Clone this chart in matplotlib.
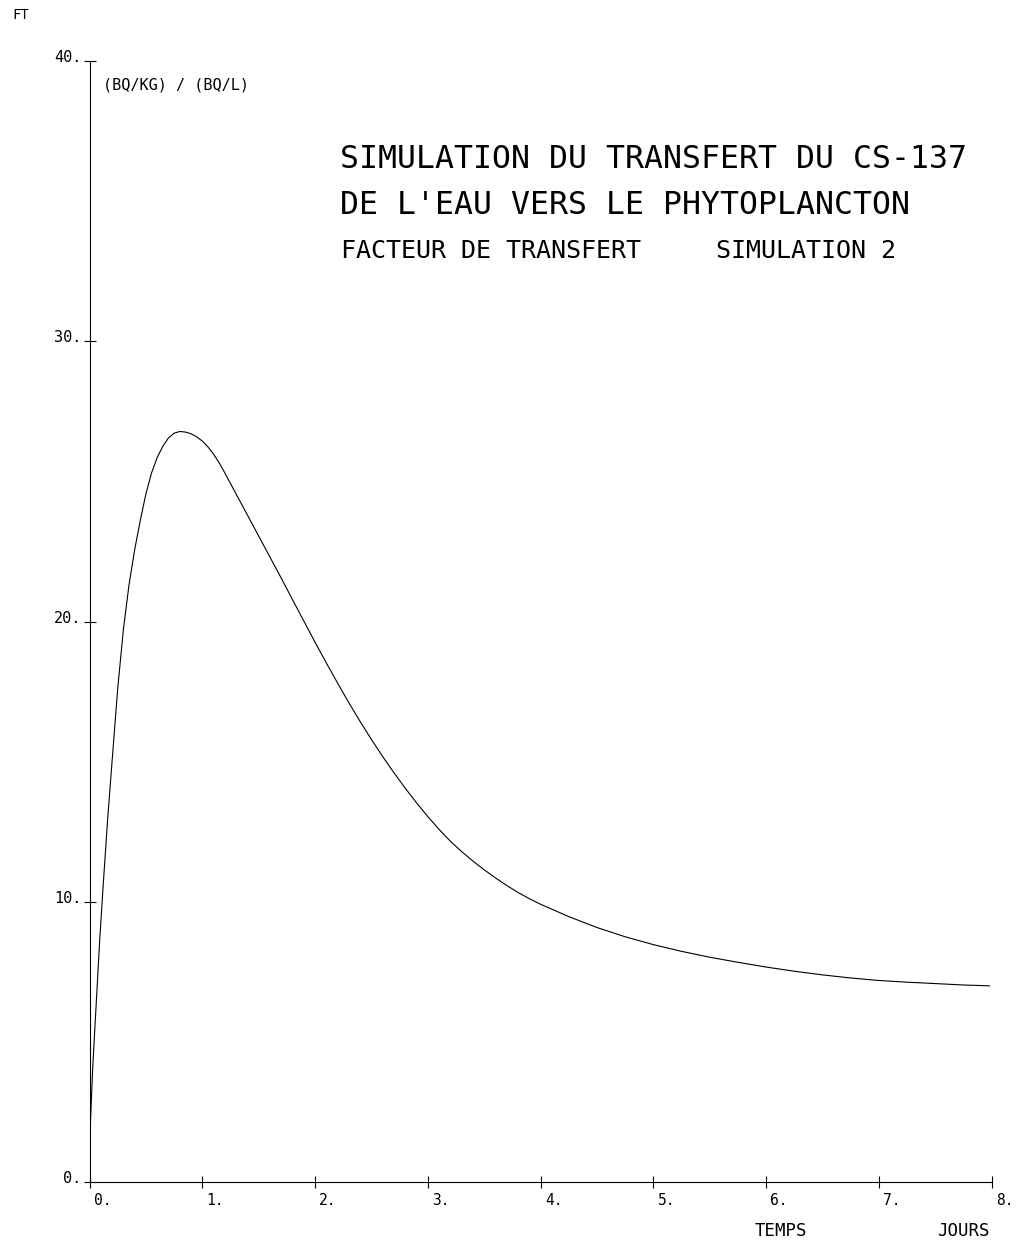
import matplotlib
matplotlib.use("Agg")
import matplotlib.pyplot as plt

# Transfer factor of Cs-137 from water to phytoplankton (simulation 2)
temps_jours = [0.0, 0.004, 0.01, 0.03, 0.06, 0.09, 0.12, 0.16, 0.20, 0.25,
               0.30, 0.35, 0.40, 0.45, 0.50, 0.55, 0.60, 0.65, 0.70, 0.75,
               0.80, 0.85, 0.90, 0.95, 1.00, 1.05, 1.10, 1.15, 1.20, 1.30,
               1.40, 1.50, 1.60, 1.70, 1.80, 1.90, 2.00, 2.10, 2.20, 2.30,
               2.40, 2.50, 2.60, 2.70, 2.80, 2.90, 3.00, 3.10, 3.20, 3.30,
               3.40, 3.50, 3.60, 3.70, 3.80, 3.90, 4.00, 4.25, 4.50, 4.75,
               5.00, 5.25, 5.50, 5.75, 6.00, 6.25, 6.50, 6.75, 7.00, 7.25,
               7.50, 7.75, 7.98]
facteur_transfert = [0.0, 1.5, 2.3, 4.2, 6.4, 8.6, 10.5, 12.9, 15.0, 17.6,
                     19.7, 21.3, 22.55, 23.6, 24.55, 25.3, 25.85, 26.25, 26.55, 26.72,
                     26.78, 26.76, 26.70, 26.59, 26.44, 26.23, 25.97, 25.66, 25.30, 24.55,
                     23.80, 23.05, 22.30, 21.55, 20.78, 20.02, 19.26, 18.52, 17.80, 17.10,
                     16.43, 15.79, 15.18, 14.60, 14.05, 13.53, 13.04, 12.58, 12.16, 11.79,
                     11.45, 11.14, 10.85, 10.58, 10.33, 10.11, 9.91, 9.47, 9.08, 8.75,
                     8.47, 8.23, 8.02, 7.84, 7.67, 7.52, 7.39, 7.28, 7.19, 7.13,
                     7.08, 7.03, 7.00]

x_ticks = [0, 1, 2, 3, 4, 5, 6, 7, 8]
y_ticks = [0, 10, 20, 30, 40]
x_tick_labels = ["0.", "1.", "2.", "3.", "4.", "5.", "6.", "7.", "8."]
y_tick_labels = ["0.", "10.", "20.", "30.", "40."]

titre = ["SIMULATION DU TRANSFERT DU CS-137",
         "DE L'EAU VERS LE PHYTOPLANCTON"]
sous_titre = "FACTEUR DE TRANSFERT     SIMULATION 2"

FONT = "DejaVu Sans Mono"
plt.rcParams["font.family"] = FONT

W, H = 1024, 1242
fig = plt.figure(figsize=(W / 100, H / 100), dpi=100)
fig.patch.set_facecolor("white")

left_px, right_px = 89.5, 991.7
bottom_px, top_px = 1182, 61
ax = fig.add_axes([left_px / W, 1 - bottom_px / H,
                   (right_px - left_px) / W, (bottom_px - top_px) / H])

ax.plot(temps_jours, facteur_transfert, color="black", lw=0.8,
        solid_joinstyle="round")

ax.set_xlim(0, 8)
ax.set_ylim(0, 40)
for s in ("top", "right"):
    ax.spines[s].set_visible(False)
for s in ("left", "bottom"):
    ax.spines[s].set_linewidth(0.8)
    ax.spines[s].set_color("black")

ax.set_xticks(x_ticks)
ax.set_yticks(y_ticks)
ax.tick_params(axis="both", direction="inout", length=8, width=0.8,
               labelbottom=False, labelleft=False, color="black")

# Tick labels drawn next to each tick, plotter style
for v, lab in zip(x_ticks, x_tick_labels):
    ax.annotate(lab, xy=(v, 0), xycoords="data", xytext=(3, -8),
                textcoords="offset points", ha="left", va="top",
                fontsize=10.5, color="black")
for v, lab in zip(y_ticks, y_tick_labels):
    ax.annotate(lab, xy=(0, v), xycoords="data", xytext=(-6, 2.5),
                textcoords="offset points", ha="right", va="center",
                fontsize=11, color="black")

# Axis names and units
fig.text(12 / W, 1 - 15 / H, "FT", ha="left", va="center", fontsize=10)
fig.text(103 / W, 1 - 85 / H, "(BQ/KG) / (BQ/L)", ha="left", va="center",
         fontsize=11)
fig.text(755 / W, 1 - 1231 / H, "TEMPS", ha="left", va="center", fontsize=12.5)
fig.text(937 / W, 1 - 1231 / H, "JOURS", ha="left", va="center", fontsize=12.5)

# Title block
fig.text(340 / W, 1 - 160 / H, titre[0], ha="left", va="center", fontsize=22.7)
fig.text(340 / W, 1 - 206 / H, titre[1], ha="left", va="center", fontsize=22.7)
fig.text(341 / W, 1 - 251 / H, sous_titre, ha="left", va="center", fontsize=18)

fig.savefig("out.png", dpi=100, facecolor="white")
